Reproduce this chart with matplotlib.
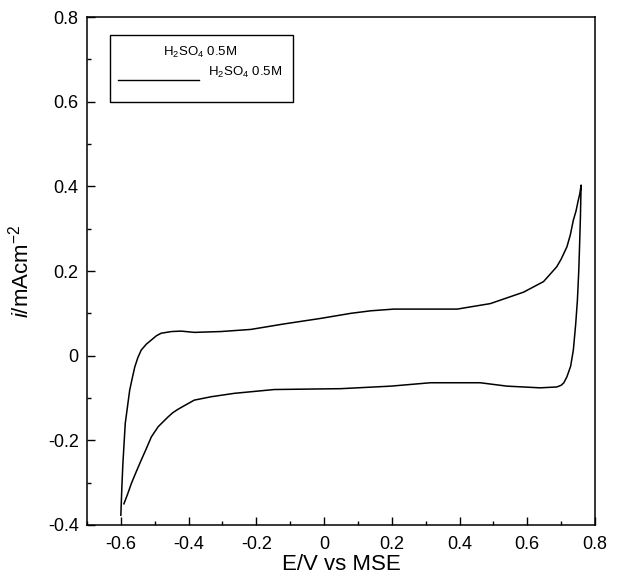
import matplotlib
matplotlib.use("Agg")
import matplotlib.pyplot as plt
from matplotlib.ticker import MultipleLocator, FuncFormatter
from matplotlib.patches import Rectangle
from matplotlib.lines import Line2D

plt.rcParams['font.family'] = ['Liberation Sans', 'DejaVu Sans']
plt.rcParams['mathtext.fontset'] = 'custom'
plt.rcParams['mathtext.rm'] = 'Liberation Sans'
plt.rcParams['mathtext.it'] = 'Liberation Sans:italic'
plt.rcParams['mathtext.default'] = 'regular'

# anodic (forward) sweep
E_forward = [-0.600, -0.597, -0.594, -0.587, -0.580, -0.574, -0.566, -0.559, -0.550,
             -0.540, -0.525, -0.510, -0.495, -0.481, -0.450, -0.422, -0.383, -0.304,
             -0.216, -0.118, -0.010, 0.079, 0.138, 0.206, 0.393, 0.491, 0.589, 0.648,
             0.687, 0.700, 0.717, 0.727, 0.736, 0.744, 0.750, 0.755, 0.759]
i_forward = [-0.377, -0.310, -0.255, -0.160, -0.118, -0.082, -0.052, -0.027, -0.005,
             0.013, 0.027, 0.037, 0.047, 0.053, 0.057, 0.058, 0.055, 0.057,
             0.062, 0.075, 0.088, 0.100, 0.106, 0.110, 0.110, 0.123, 0.150, 0.175,
             0.210, 0.228, 0.257, 0.285, 0.320, 0.342, 0.365, 0.382, 0.403]
# cathodic (reverse) sweep
E_reverse = [0.758, 0.757, 0.754, 0.752, 0.748, 0.743, 0.736, 0.728, 0.717, 0.708,
             0.700, 0.687, 0.638, 0.540, 0.461, 0.314, 0.197, 0.049, -0.147, -0.265,
             -0.333, -0.383, -0.410, -0.432, -0.447, -0.461, -0.490, -0.510, -0.525,
             -0.540, -0.555, -0.569, -0.580, -0.591]
i_reverse = [0.370, 0.330, 0.249, 0.200, 0.131, 0.075, 0.013, -0.025, -0.050, -0.064,
             -0.070, -0.074, -0.076, -0.072, -0.064, -0.064, -0.072, -0.078, -0.080, -0.089,
             -0.097, -0.105, -0.117, -0.127, -0.135, -0.145, -0.168, -0.192, -0.220,
             -0.247, -0.275, -0.302, -0.327, -0.350]

legend_label = r'H$_2$SO$_4$ 0.5M'

fig = plt.figure(figsize=(6.2, 5.85), dpi=100)
ax = fig.add_axes([0.1403, 0.1026, 0.8194, 0.8683])

ax.plot(E_forward + E_reverse, i_forward + i_reverse, color='black', lw=1.1)

ax.set_xlim(-0.7, 0.8)
ax.set_ylim(-0.4, 0.8)
ax.xaxis.set_minor_locator(MultipleLocator(0.1))
ax.yaxis.set_major_locator(MultipleLocator(0.2))
ax.yaxis.set_minor_locator(MultipleLocator(0.1))
ax.set_xticks([-0.6, -0.4, -0.2, 0, 0.2, 0.4, 0.6, 0.8])

def fmt(v, pos):
    if abs(v) < 1e-9:
        return '0'
    return ('%.1f' % v)
ax.xaxis.set_major_formatter(FuncFormatter(fmt))
ax.yaxis.set_major_formatter(FuncFormatter(fmt))

ax.tick_params(which='both', direction='in', top=False, right=False, labelsize=13, width=1.0)
ax.tick_params(which='major', length=5.5)
ax.tick_params(which='minor', length=3.2)
ax.tick_params(axis='x', pad=8)
ax.tick_params(axis='y', pad=6)
for s in ax.spines.values():
    s.set_linewidth(1.1)

ax.set_xlabel('E/V vs MSE', fontsize=16, labelpad=1)
ax.set_ylabel(r'$\mathit{i}$/mAcm$^{-2}$', fontsize=16, labelpad=10)

# legend box drawn manually to mimic the reference layout
ax.add_patch(Rectangle((0.0453, 0.8327), 0.3602, 0.1319, transform=ax.transAxes,
                       fill=False, edgecolor='black', lw=1.0))
ax.add_line(Line2D([0.061, 0.2205], [0.876, 0.876], transform=ax.transAxes,
                   color='black', lw=1.0))
ax.text(0.1496, 0.930, legend_label, transform=ax.transAxes, fontsize=9.5,
        ha='left', va='center')
ax.text(0.238, 0.890, legend_label, transform=ax.transAxes, fontsize=9.5,
        ha='left', va='center')

fig.savefig('out.png', dpi=100)
